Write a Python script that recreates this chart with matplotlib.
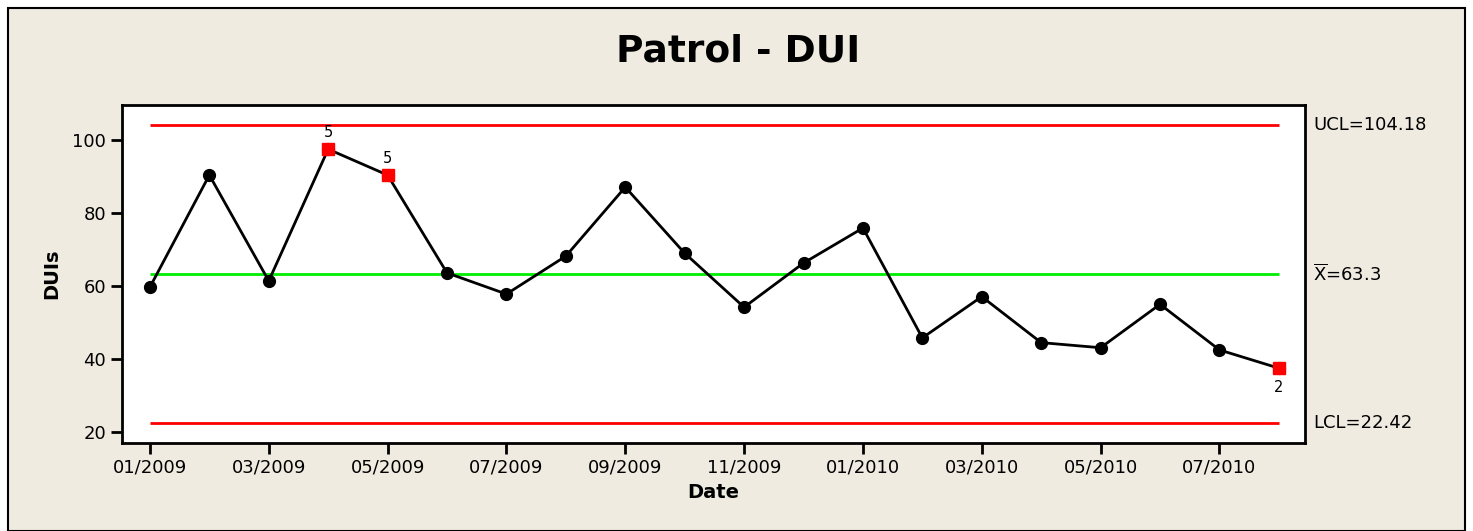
import matplotlib.pyplot as plt
from matplotlib.patches import Rectangle

# data
months = ['01/2009', '02/2009', '03/2009', '04/2009', '05/2009', '06/2009', '07/2009',
          '08/2009', '09/2009', '10/2009', '11/2009', '12/2009', '01/2010', '02/2010',
          '03/2010', '04/2010', '05/2010', '06/2010', '07/2010', '08/2010']
duis = [59.7, 90.4, 61.4, 97.5, 90.4, 63.6, 57.8, 68.2, 87.1, 69.0,
        54.2, 66.3, 75.9, 45.8, 57.1, 44.5, 43.1, 55.0, 42.5, 37.5]
ucl = 104.18
mean = 63.3
lcl = 22.42
# flagged points (index, test number)
flag_idx = [3, 4, 19]
flag_lbl = ['5', '5', '2']

bg = '#efebe1'
fig = plt.figure(figsize=(14.73, 5.31), dpi=100, facecolor='white')
fig.patches.append(Rectangle((8 / 1473, 0), 1457 / 1473, 523 / 531, transform=fig.transFigure,
                             facecolor=bg, edgecolor='black', lw=1.5, zorder=-10))
ax = fig.add_axes([122 / 1473, 1 - 443 / 531, (1305 - 122) / 1473, (443 - 105) / 531])
ax.set_facecolor('white')

x = list(range(len(duis)))
ax.hlines([ucl, lcl], x[0], x[-1], color='#ff0000', lw=2)
ax.hlines(mean, x[0], x[-1], color='#00ee00', lw=2)
ax.plot(x, duis, color='black', lw=2, marker='o', markersize=8.5, zorder=3)
for i, lab in zip(flag_idx, flag_lbl):
    ax.plot(x[i], duis[i], 's', color='#ff0000', markersize=9, zorder=4)
    if lab == '2':
        ax.annotate(lab, (x[i], duis[i]), xytext=(0, -14), textcoords='offset points',
                    ha='center', va='center', fontsize=10.5)
    else:
        ax.annotate(lab, (x[i], duis[i]), xytext=(0, 12), textcoords='offset points',
                    ha='center', va='center', fontsize=10.5)

ax.set_xlim(-0.47, 19.44)
ax.set_ylim(17.0, 109.6)
ax.set_yticks([20, 40, 60, 80, 100])
ax.set_xticks(x[::2])
ax.set_xticklabels(months[::2])
ax.tick_params(axis='both', length=8, width=2, labelsize=13, color='black')
for s in ax.spines.values():
    s.set_linewidth(2)

ax.set_xlabel('Date', fontsize=14, fontweight='bold', labelpad=4)
ax.set_ylabel('DUIs', fontsize=14, fontweight='bold', labelpad=8)
fig.text(738 / 1473, 1 - 52 / 531, 'Patrol - DUI', ha='center', va='center',
         fontsize=27, fontweight='bold')

tr = ax.get_yaxis_transform()
ax.text(1.007, ucl, 'UCL=104.18', transform=tr, va='center', ha='left', fontsize=13)
ax.text(1.007, mean, r'$\overline{\mathrm{X}}$=63.3', transform=tr, va='center', ha='left', fontsize=13)
ax.text(1.007, lcl, 'LCL=22.42', transform=tr, va='center', ha='left', fontsize=13)

plt.savefig('out.png', dpi=100, facecolor=fig.get_facecolor())
